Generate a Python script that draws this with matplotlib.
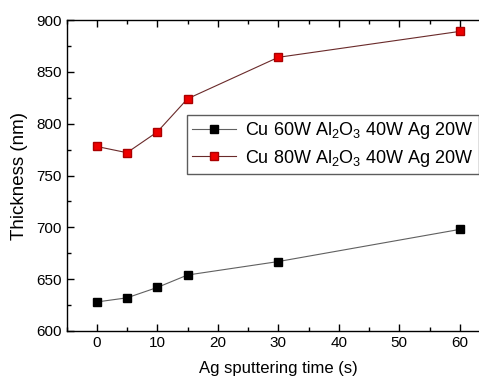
import numpy as np
import matplotlib.pyplot as plt
from matplotlib.ticker import MultipleLocator

plt.rcParams['font.family'] = ['Liberation Sans', 'DejaVu Sans']
plt.rcParams['mathtext.fontset'] = 'custom'
plt.rcParams['mathtext.rm'] = 'Liberation Sans'

# Ag sputtering time (s)
time_s = [0, 5, 10, 15, 30, 60]
# thickness (nm)
cu60 = [628, 632, 642, 654, 667, 698]
cu80 = [778, 772, 792, 824, 864, 889]
labels = [r'Cu 60W Al$_\mathregular{2}$O$_\mathregular{3}$ 40W Ag 20W',
          r'Cu 80W Al$_\mathregular{2}$O$_\mathregular{3}$ 40W Ag 20W']

fig = plt.figure(figsize=(4.79, 3.76), dpi=100)
W, H = 479, 376
ax = fig.add_axes([66.5 / W, 1 - 331 / H, (490 - 66.5) / W, (331 - 20) / H])

ax.plot(time_s, cu60, color='#606060', linewidth=0.8, marker='s', markersize=5.2,
        markerfacecolor='black', markeredgecolor='black', label=labels[0])
ax.plot(time_s, cu80, color='#6a2a2a', linewidth=0.8, marker='s', markersize=5.2,
        markerfacecolor='#ee0000', markeredgecolor='#aa0000', label=labels[1])

ax.set_xlim(-5, 65)
ax.set_ylim(600, 900)
ax.xaxis.set_major_locator(MultipleLocator(10))
ax.xaxis.set_minor_locator(MultipleLocator(5))
ax.yaxis.set_major_locator(MultipleLocator(50))
ax.yaxis.set_minor_locator(MultipleLocator(25))
ax.tick_params(which='both', direction='in', top=True, right=True, labelsize=11, width=1)
ax.tick_params(which='major', length=5)
ax.tick_params(which='minor', length=3)
for s in ax.spines.values():
    s.set_linewidth(1)

ax.set_xlabel('Ag sputtering time (s)', fontsize=12, labelpad=8)
ax.set_ylabel('Thickness (nm)', fontsize=13.5, labelpad=6)

leg = ax.legend(loc='upper left', bbox_to_anchor=(187 / W, 1 - 115 / H),
                bbox_transform=fig.transFigure, borderaxespad=0, fontsize=13,
                frameon=True, fancybox=False, edgecolor='#333333',
                handlelength=2.4, handletextpad=0.5, labelspacing=0.35,
                borderpad=0.3)
leg.get_frame().set_linewidth(1)

fig.savefig('out.png', dpi=100)
